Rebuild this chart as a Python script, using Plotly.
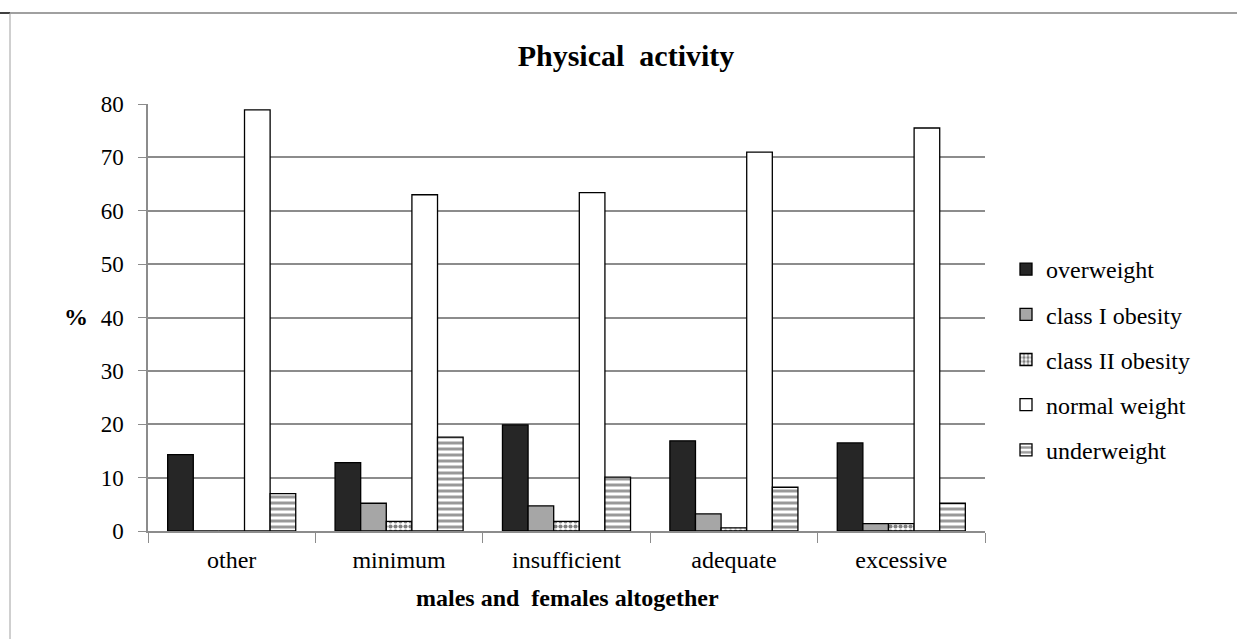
import plotly.graph_objects as go

categories = ["other", "minimum", "insufficient", "adequate", "excessive"]
overweight = [14.3, 12.8, 19.9, 16.9, 16.5]
class1 = [0, 5.2, 4.7, 3.2, 1.4]
class2 = [0, 1.8, 1.8, 0.6, 1.4]
normal = [78.9, 63.0, 63.4, 71.0, 75.5]
underweight = [7.0, 17.6, 10.1, 8.2, 5.2]

FONT = "Liberation Serif"
W, H = 1237, 639
L, R, T, B = 148, 985, 104, 531
GRID = "#8c8c8c"

fig = go.Figure()
line = dict(color="black", width=1.3)
fig.add_bar(name="overweight", x=categories, y=overweight, legendgroup="a",
            marker=dict(color="#262626", line=line))
fig.add_bar(name="class I obesity", x=categories, y=class1, legendgroup="b",
            marker=dict(color="#a6a6a6", line=line))
fig.add_bar(name="class II obesity", x=categories, y=class2, legendgroup="c",
            marker=dict(color="white", line=line,
                        pattern=dict(shape=".", fgcolor="black", bgcolor="white",
                                     size=5, solidity=0.55)))
fig.add_bar(name="normal weight", x=categories, y=normal, legendgroup="d",
            marker=dict(color="white", line=line))
fig.add_bar(name="underweight", x=categories, y=underweight, legendgroup="e",
            marker=dict(color="white", line=line,
                        pattern=dict(shape="-", fgcolor="#333333", bgcolor="white",
                                     size=6, solidity=0.5)))

def px(x):
    return (x - L) / (R - L)

def py(y):
    return (B - y) / (B - T)

shapes = [
    dict(type="line", xref="paper", yref="paper", x0=px(10), x1=px(1237), y0=py(13), y1=py(13),
         line=dict(color="#808080", width=1.5)),
    dict(type="line", xref="paper", yref="paper", x0=px(0), x1=px(10), y0=py(13), y1=py(13),
         line=dict(color="black", width=1.5)),
    dict(type="line", xref="paper", yref="paper", x0=px(10), x1=px(10), y0=py(13), y1=py(639),
         line=dict(color="#a0a0a0", width=1)),
]

fig.update_layout(
    width=W, height=H,
    margin=dict(l=L, r=W - R, t=T, b=H - B),
    paper_bgcolor="white", plot_bgcolor="white",
    barmode="group", bargap=0.235, bargroupgap=0,
    font=dict(family=FONT, size=22, color="black"),
    title=dict(text="<b>Physical  activity</b>", x=626 / W, xanchor="center",
               y=1 - 55 / H, yanchor="middle", font=dict(size=30, family=FONT)),
    xaxis=dict(showline=True, linecolor=GRID, linewidth=1.5,
               ticks="outside", tickson="boundaries", ticklen=10, tickcolor=GRID,
               ticklabelstandoff=6, tickfont=dict(size=24)),
    yaxis=dict(range=[0, 80], dtick=10, showline=True, linecolor=GRID, linewidth=1.5,
               ticks="outside", ticklen=8, tickcolor=GRID,
               showgrid=True, gridcolor=GRID, gridwidth=1.5, zeroline=False,
               ticklabelstandoff=10, tickfont=dict(size=23)),
    legend=dict(x=px(1006), xanchor="left", y=py(247), yanchor="top",
                font=dict(size=24, family=FONT), tracegroupgap=11, itemwidth=30,
                traceorder="grouped", bgcolor="rgba(0,0,0,0)"),
    shapes=shapes,
    annotations=[
        dict(text="<b>%</b>", xref="paper", yref="paper", x=px(76), y=py(317),
             xanchor="center", yanchor="middle", showarrow=False,
             font=dict(size=24, family=FONT)),
        dict(text="<b>males and  females altogether</b>", xref="paper", yref="paper",
             x=px(567), y=py(598), xanchor="center", yanchor="middle", showarrow=False,
             font=dict(size=24, family=FONT)),
    ],
)

fig.write_html("out.html", config={"displayModeBar": False},
               post_script="document.body.style.margin='0px';")
